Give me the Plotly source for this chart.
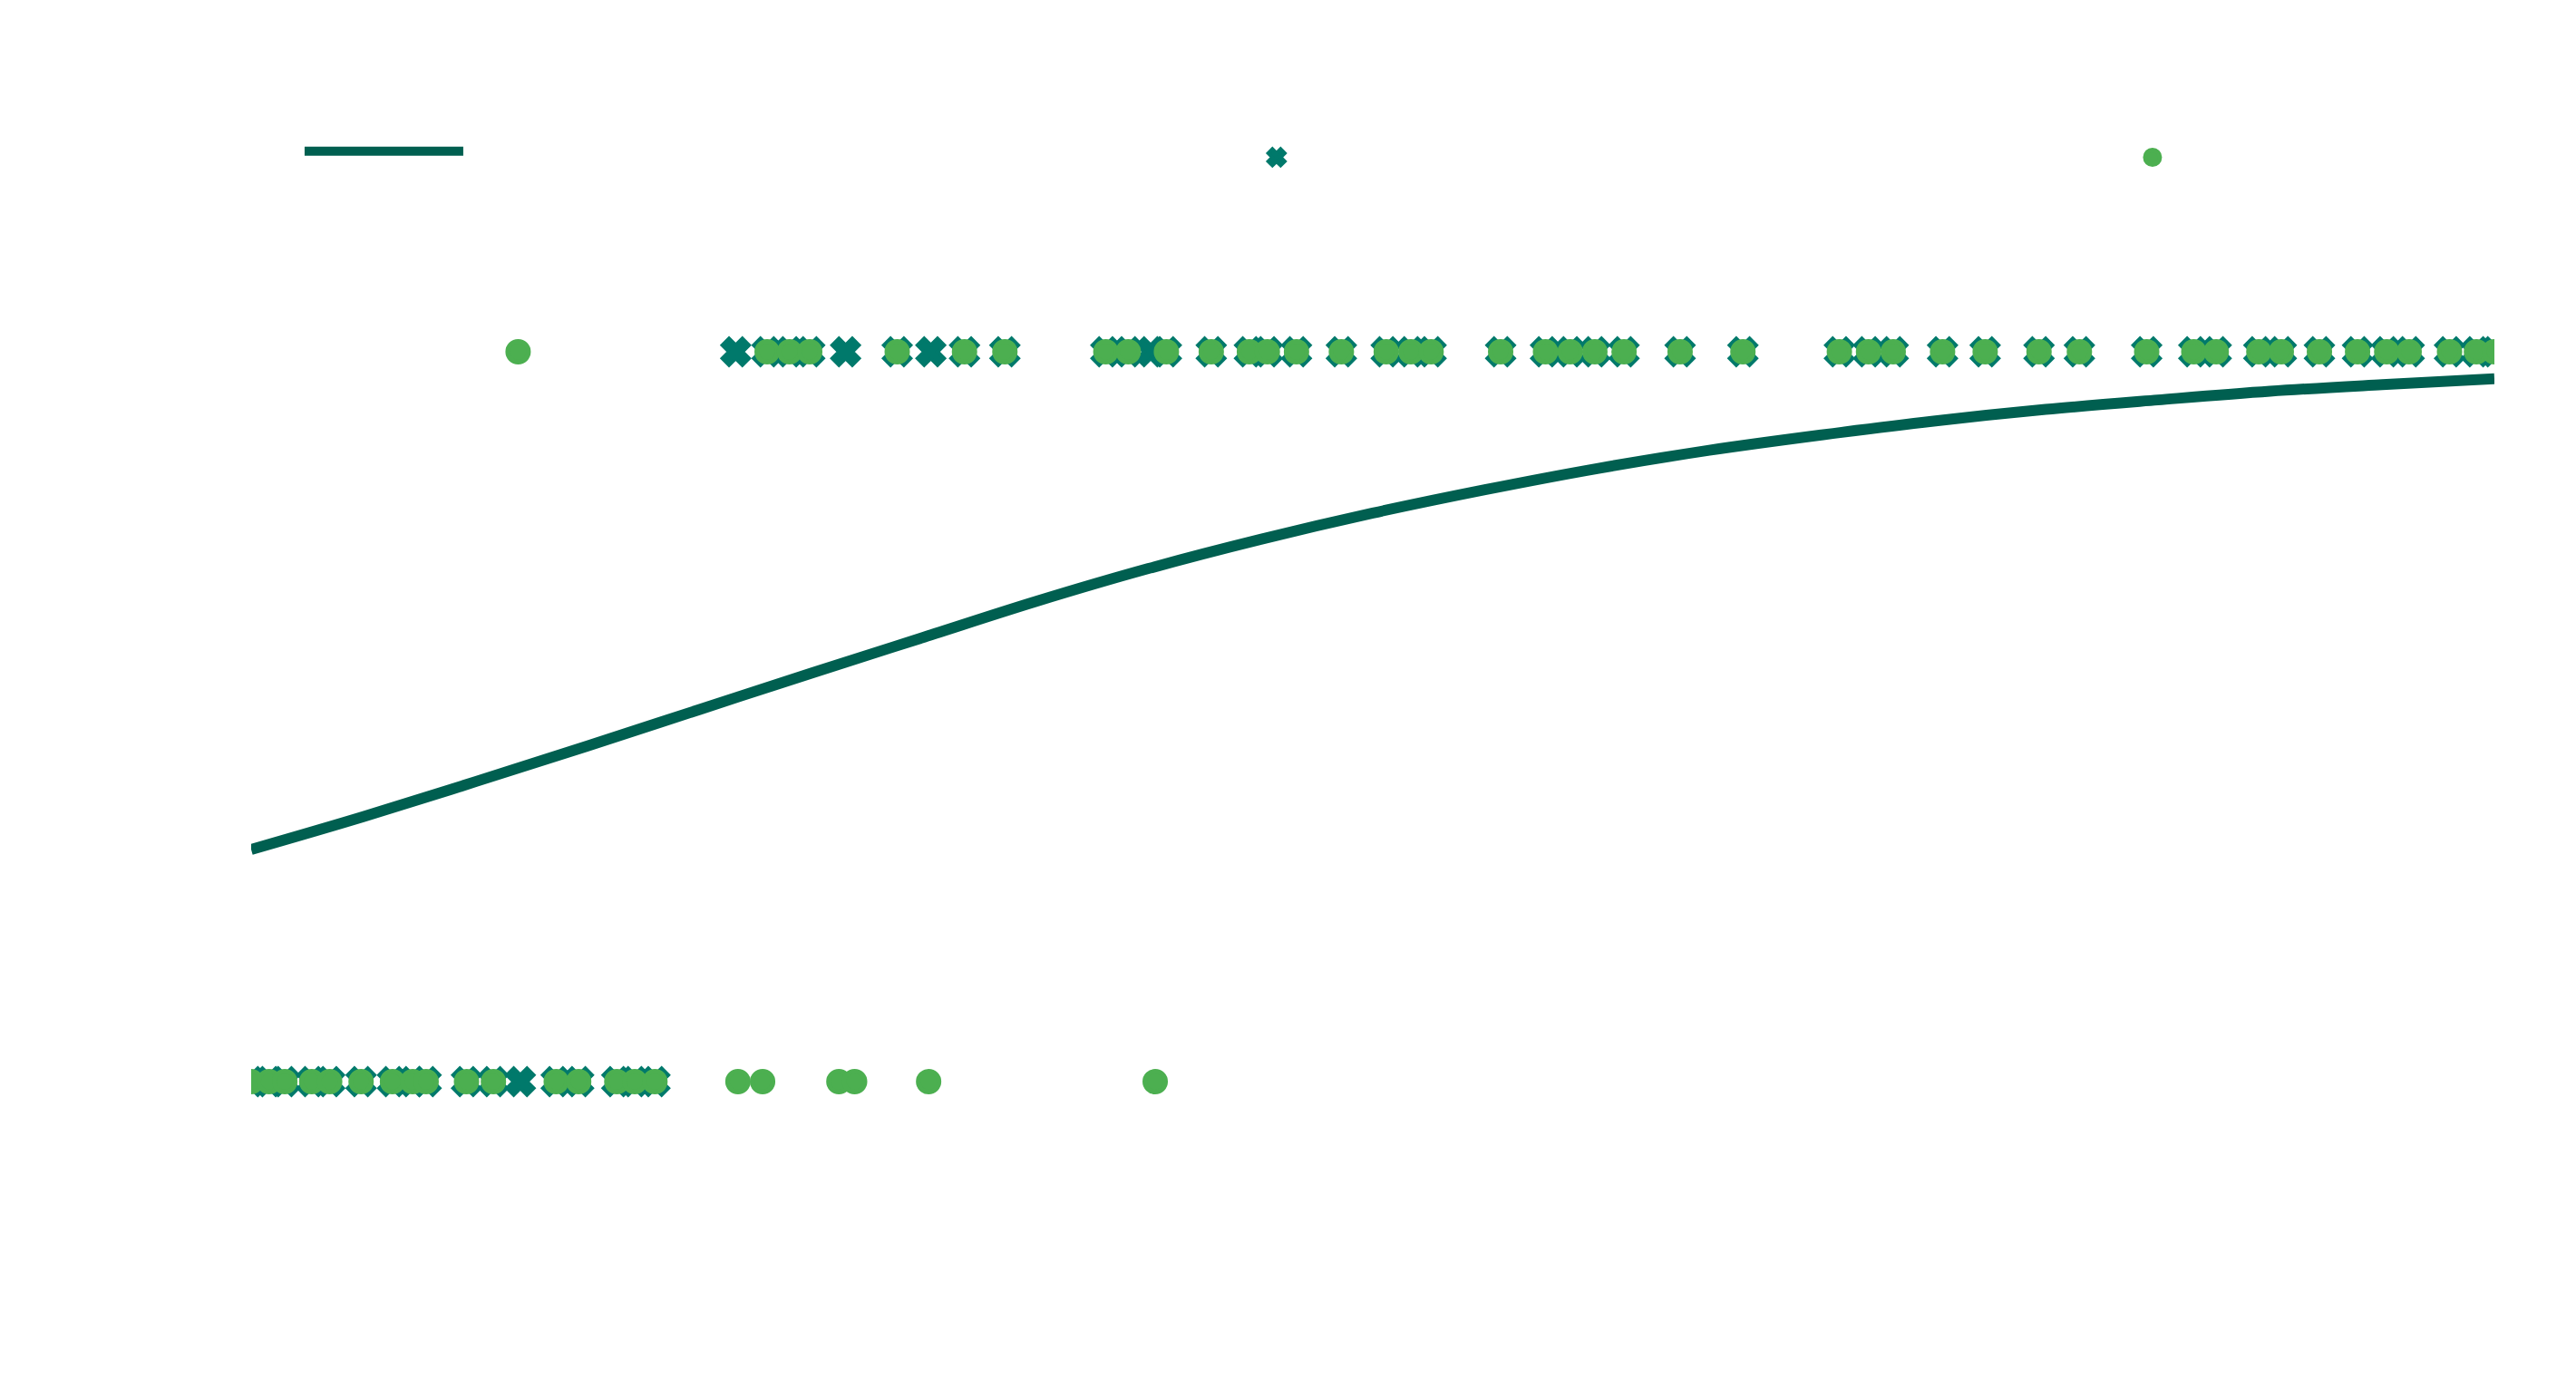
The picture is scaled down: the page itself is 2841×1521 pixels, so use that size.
import plotly.graph_objects as go

# ---- data ----
# fitted probability curve
curve_x = [0.0, 0.5, 1.0, 1.5, 2.0, 2.5, 3.0, 3.5, 4.0, 4.5, 5.0,
           5.5, 6.0, 6.5, 7.0, 7.5, 8.0, 8.5, 9.0, 9.5, 10.0]
curve_p = [0.318, 0.363, 0.411, 0.460, 0.510, 0.560, 0.609, 0.658, 0.703, 0.743, 0.779,
           0.811, 0.840, 0.865, 0.886, 0.905, 0.921, 0.934, 0.946, 0.955, 0.963]

# observed outcomes (x markers)
obs_x0 = [0.00, 0.08, 0.15, 0.27, 0.35, 0.49, 0.63, 0.72, 0.78, 0.96, 1.08, 1.20,
          1.36, 1.46, 1.63, 1.71, 1.80]
obs_x1 = [2.16, 2.30, 2.40, 2.49, 2.65, 2.88, 3.03, 3.18, 3.36, 3.81, 3.91, 4.01, 4.08,
          4.28, 4.45, 4.53, 4.66, 4.86, 5.06, 5.17, 5.26, 5.57, 5.77, 5.88, 5.99, 6.12,
          6.37, 6.65, 7.08, 7.21, 7.32, 7.54, 7.73, 7.97, 8.15, 8.45, 8.66, 8.76, 8.95,
          9.05, 9.22, 9.39, 9.52, 9.62, 9.80, 9.92, 10.00]

# predicted classes (circles)
pred_x0 = [0.00, 0.08, 0.15, 0.27, 0.35, 0.49, 0.63, 0.72, 0.78, 0.96, 1.08,
           1.36, 1.46, 1.63, 1.71, 1.80, 2.17, 2.28, 2.62, 2.69, 3.02, 4.03]
pred_x1 = [1.19, 2.30, 2.40, 2.49, 2.88, 3.18, 3.36, 3.81, 3.91, 4.08, 4.28, 4.45, 4.53,
           4.66, 4.86, 5.06, 5.17, 5.26, 5.57, 5.77, 5.88, 5.99, 6.12, 6.37, 6.65, 7.08,
           7.21, 7.32, 7.54, 7.73, 7.97, 8.15, 8.45, 8.66, 8.76, 8.95, 9.05, 9.22, 9.39,
           9.52, 9.62, 9.80, 9.92, 10.00]

names = ["Fitted probability", "Observed", "Predicted"]

LINE_C = "#005F50"
X_C = "#00796B"
DOT_C = "#4CAF50"

obs_x = obs_x0 + obs_x1
obs_y = [0] * len(obs_x0) + [1] * len(obs_x1)
pred_x = pred_x0 + pred_x1
pred_y = [0] * len(pred_x0) + [1] * len(pred_x1)

fig = go.Figure()
fig.add_trace(go.Scatter(x=curve_x, y=curve_p, mode="lines", name=names[0],
                         legend="legend",
                         line=dict(color=LINE_C, width=12, shape="spline")))
fig.add_trace(go.Scatter(x=obs_x, y=obs_y, mode="markers", name=names[1],
                         legend="legend2",
                         marker=dict(symbol="x", size=26, color=X_C,
                                     line=dict(width=4, color=X_C))))
fig.add_trace(go.Scatter(x=pred_x, y=pred_y, mode="markers", name=names[2],
                         legend="legend3",
                         marker=dict(symbol="circle", size=23, color=DOT_C,
                                     line=dict(width=5, color=DOT_C))))

leg_common = dict(orientation="h", xanchor="left", yanchor="middle",
                  font=dict(color="white", size=20, family="Roboto"),
                  bgcolor="rgba(0,0,0,0)")

fig.update_layout(
    width=2841, height=1521,
    margin=dict(l=277, r=90, t=227, b=167),
    paper_bgcolor="white", plot_bgcolor="white",
    showlegend=True,
    legend=dict(x=0.0218, y=1.0535, itemwidth=175, **leg_common),
    legend2=dict(x=0.449, y=1.0475, **leg_common),
    legend3=dict(x=0.8395, y=1.0475, **leg_common),
    xaxis=dict(range=[0, 10], showgrid=False, zeroline=False, showticklabels=False,
               showline=False, ticks=""),
    yaxis=dict(range=[-0.2, 1.2], showgrid=False, zeroline=False, showticklabels=False,
               showline=False, ticks=""),
)

fig.write_html("out.html")
